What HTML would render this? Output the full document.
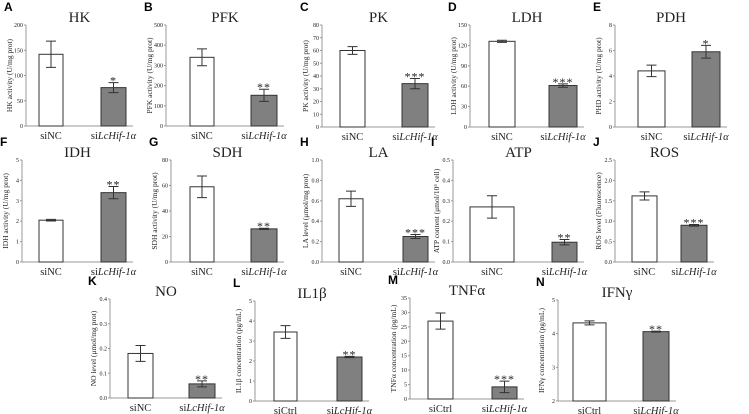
<!DOCTYPE html>
<html><head><meta charset="utf-8"><style>
body{margin:0;background:#fff}
svg{display:block}
text{font-family:"Liberation Serif",serif;fill:#222}
.lt{font-family:"Liberation Sans",sans-serif;font-weight:bold;font-size:12px;fill:#000}
</style></head><body>
<svg id="fig" width="749" height="414" viewBox="0 0 749 414"></svg>
<script>
// data arrays
const panelLetters=["A","B","C","D","E","F","G","H","I","J","K","L","M","N"];
const panelTitles=["HK","PFK","PK","LDH","PDH","IDH","SDH","LA","ATP","ROS","NO","IL1β","TNFα","IFNγ"];
const yTitles=["HK activity (U/mg prot)","PFK activity (U/mg prot)","PK activity (U/mg prot)","LDH activity (U/mg prot)","PHD activity (U/mg prot)","IDH activity (U/mg prot)","SDH activity (U/mg prot)","LA level (μmol/mg prot)","ATP content (μmol/10⁶ cell)","ROS level (Fluorescence)","NO level (μmol/mg prot)","IL1β concentration (pg/mL)","TNFα concentration (pg/mL)","IFNγ concentration (pg/mL)"];
const ctrlLabels=["siNC","siNC","siNC","siNC","siNC","siNC","siNC","siNC","siNC","siNC","siNC","siCtrl","siCtrl","siCtrl"];
const ctrlMeans=[142,340,60,126,4.4,2.05,59,0.62,0.27,1.62,0.18,3.45,27,4.32];
const ctrlErrs=[26,42,3,1.5,0.45,0.04,8.5,0.075,0.055,0.1,0.032,0.32,2.8,0.06];
const kdMeans=[76,152,34,61,5.9,3.4,26,0.25,0.097,0.9,0.057,2.2,4.2,4.06];
const kdErrs=[10,30,4,2.5,0.5,0.3,0.5,0.02,0.013,0.02,0.012,0.03,2,0.015];
const stars=["*","**","***","***","*","**","**","***","**","***","**","**","***","**"];
const yMins=[0,0,0,0,0,0,0,0,0,0,0,0,0,2];
const yMaxes=[200,500,80,150,8,5,80,1,0.5,2.5,0.4,5,35,5];
const tickSteps=[50,100,10,30,2,1,20,0.2,0.1,0.5,0.1,1,5,1];
const tickDecimals=[0,0,0,0,0,0,0,1,1,1,1,0,0,0];
// layout: [axisX, topY, bottomY, bar1L, bar1R, bar2L, bar2R]
const layout=[
[26,25,126,39,63,101,126],[166,25,126,190,214,251,277],[322,25,127,340,365,402,428],[470,25,127,489,515,549,577],[615,25,127,638,665,692,720],
[22,160,262,39,63,101,126],[171,160,262,190,214,251,277],[322,160,262,339,363,403,428],[453,160,262,470,514,552,577],[615,160,262,632,657,681,707],
[110,299,398,128,153,189,215],[255,301,401,274,297,337,362],[410,298,399,428,453,492,517],[558,300,401,573,606,643,669]];
const NS="http://www.w3.org/2000/svg";
const svg=document.getElementById('fig');
function mk(tag,attrs,parent,txt){const e=document.createElementNS(NS,tag);for(const k in attrs)e.setAttribute(k,attrs[k]);if(txt!==undefined)e.textContent=txt;(parent||svg).appendChild(e);return e;}
for(let i=0;i<panelTitles.length;i++){
  const [ax,top,bot,b1l,b1r,b2l,b2r]=layout[i];
  const g=mk('g',{});
  
  
  const y=v=>bot-(v-yMins[i])/(yMaxes[i]-yMins[i])*(bot-top);
  const xEnd=b2r+7;
  const lt=mk('text',{x:ax-22,y:top-14,class:'lt'},g,panelLetters[i]);
  
  
  const tt=mk('text',{x:(ax+xEnd)/2,y:top-3,'text-anchor':'middle','font-size':15},g,panelTitles[i]);
  
  
  const ya=mk('line',{x1:ax,y1:top,x2:ax,y2:bot,stroke:'#999','stroke-width':1},g);
  
  
  const xa=mk('line',{x1:ax,y1:bot,x2:xEnd,y2:bot,stroke:'#999','stroke-width':1},g);
  
  
  const n=Math.round((yMaxes[i]-yMins[i])/tickSteps[i]);
  for(let k=0;k<=n;k++){
    const v=yMins[i]+k*tickSteps[i];const ty=y(v);
    mk('line',{x1:ax-2,y1:ty,x2:ax,y2:ty,stroke:'#999'},g);
    const tl=mk('text',{x:ax-3,y:ty+2,'text-anchor':'end','font-size':6,fill:'#444'},g,v.toFixed(tickDecimals[i]));
    
    
  }
  const yt=mk('text',{x:0,y:0,'text-anchor':'middle','font-size':7.5,transform:`translate(${ax-14},${(top+bot)/2}) rotate(-90)`},g,yTitles[i]);
  
  
  const bars=[[b1l,b1r,ctrlMeans[i],ctrlErrs[i],'#fff'],[b2l,b2r,kdMeans[i],kdErrs[i],'#808080']];
  bars.forEach((b,j)=>{
    const [l,r,m,e,f]=b;const cx=(l+r)/2;
    const br=mk('rect',{x:l,y:y(m),width:r-l,height:bot-y(m),fill:f,stroke:'#333','stroke-width':1},g);
    
    
    const eb=mk('path',{d:`M${cx},${y(m+e)}V${y(m-e)}M${cx-5},${y(m+e)}H${cx+5}M${cx-5},${y(m-e)}H${cx+5}`,stroke:'#333','stroke-width':1,fill:'none'},g);
    
    
  });
  const st=mk('text',{x:(b2l+b2r)/2,y:y(kdMeans[i]+kdErrs[i])+2,'text-anchor':'middle','font-size':12,'font-family':'Liberation Sans','letter-spacing':'1'},g,stars[i]);
  
  
  const c1=mk('text',{x:(b1l+b1r)/2,y:bot+13,'text-anchor':'middle','font-size':10.5},g,ctrlLabels[i]);
  
  
  const c2=mk('text',{x:(b2l+b2r)/2,y:bot+13,'text-anchor':'middle','font-size':10.5},g);
  
  
  mk('tspan',{},c2,'si');mk('tspan',{'font-style':'italic'},c2,'LcHif-1α');
}
</script>
</body></html>
